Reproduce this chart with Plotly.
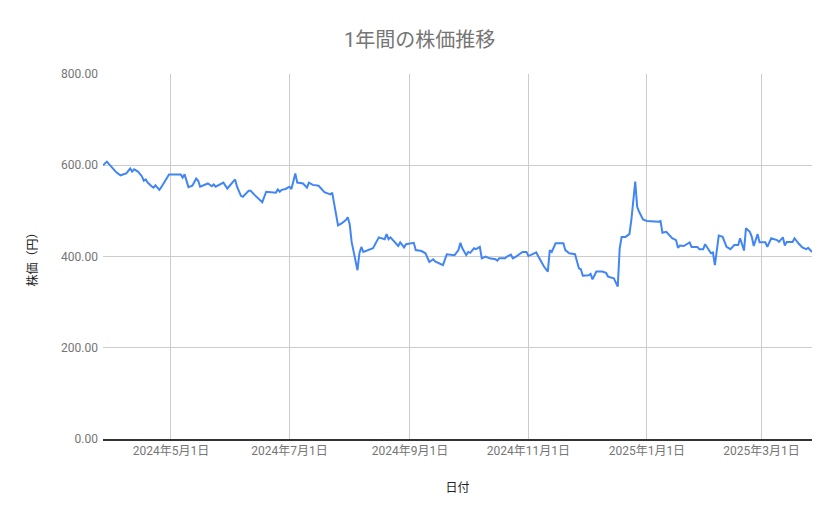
import plotly.graph_objects as go

# 日付と終値
dates = [
    "2024-03-27", "2024-03-29", "2024-03-30", "2024-04-01", "2024-04-03", "2024-04-05",
    "2024-04-08", "2024-04-10", "2024-04-11", "2024-04-12", "2024-04-14", "2024-04-16",
    "2024-04-17", "2024-04-18", "2024-04-19", "2024-04-21", "2024-04-22", "2024-04-23",
    "2024-04-25", "2024-04-26", "2024-04-30", "2024-05-06", "2024-05-07", "2024-05-08",
    "2024-05-10", "2024-05-12", "2024-05-14", "2024-05-15", "2024-05-16", "2024-05-20",
    "2024-05-22", "2024-05-23", "2024-05-24", "2024-05-28", "2024-05-30", "2024-06-03",
    "2024-06-04", "2024-06-06", "2024-06-07", "2024-06-10", "2024-06-11", "2024-06-13",
    "2024-06-15", "2024-06-17", "2024-06-19", "2024-06-22", "2024-06-24", "2024-06-25",
    "2024-06-26", "2024-06-27", "2024-06-29", "2024-07-01", "2024-07-02", "2024-07-04",
    "2024-07-05", "2024-07-08", "2024-07-10", "2024-07-11", "2024-07-13", "2024-07-16",
    "2024-07-18", "2024-07-19", "2024-07-22", "2024-07-23", "2024-07-24", "2024-07-26",
    "2024-07-28", "2024-07-30", "2024-07-31", "2024-08-01", "2024-08-02", "2024-08-05",
    "2024-08-06", "2024-08-07", "2024-08-08", "2024-08-13", "2024-08-16", "2024-08-19",
    "2024-08-20", "2024-08-21", "2024-08-22", "2024-08-24", "2024-08-26", "2024-08-27",
    "2024-08-29", "2024-08-30", "2024-09-03", "2024-09-04", "2024-09-07", "2024-09-09",
    "2024-09-10", "2024-09-11", "2024-09-13", "2024-09-14", "2024-09-18", "2024-09-20",
    "2024-09-24", "2024-09-26", "2024-09-27", "2024-09-28", "2024-09-30", "2024-10-01",
    "2024-10-02", "2024-10-04", "2024-10-05", "2024-10-07", "2024-10-08", "2024-10-10",
    "2024-10-12", "2024-10-15", "2024-10-16", "2024-10-17", "2024-10-20", "2024-10-21",
    "2024-10-23", "2024-10-24", "2024-10-26", "2024-10-29", "2024-10-31", "2024-11-01",
    "2024-11-04", "2024-11-05", "2024-11-06", "2024-11-08", "2024-11-09", "2024-11-11",
    "2024-11-12", "2024-11-13", "2024-11-15", "2024-11-19", "2024-11-20", "2024-11-22",
    "2024-11-25", "2024-11-27", "2024-11-28", "2024-11-29", "2024-12-02", "2024-12-03",
    "2024-12-04", "2024-12-06", "2024-12-09", "2024-12-11", "2024-12-12", "2024-12-15",
    "2024-12-17", "2024-12-18", "2024-12-19", "2024-12-21", "2024-12-23", "2024-12-24",
    "2024-12-26", "2024-12-27", "2024-12-28", "2024-12-30", "2025-01-01", "2025-01-07",
    "2025-01-08", "2025-01-09", "2025-01-11", "2025-01-14", "2025-01-16", "2025-01-17",
    "2025-01-18", "2025-01-20", "2025-01-23", "2025-01-24", "2025-01-27", "2025-01-28",
    "2025-01-30", "2025-01-31", "2025-02-02", "2025-02-03", "2025-02-04", "2025-02-05",
    "2025-02-07", "2025-02-09", "2025-02-11", "2025-02-13", "2025-02-15", "2025-02-17",
    "2025-02-18", "2025-02-19", "2025-02-20", "2025-02-21", "2025-02-23", "2025-02-24",
    "2025-02-25", "2025-02-27", "2025-02-28", "2025-03-03", "2025-03-04", "2025-03-06",
    "2025-03-09", "2025-03-10", "2025-03-12", "2025-03-13", "2025-03-14", "2025-03-17",
    "2025-03-18", "2025-03-20", "2025-03-22", "2025-03-24", "2025-03-25", "2025-03-27",
]
prices = [
    600, 608, 603, 593, 584, 578,
    582, 593, 586, 591, 586, 576,
    566, 569, 562, 554, 551, 556,
    546, 552, 580, 580, 573, 580,
    552, 555, 571, 566, 553, 560,
    554, 558, 553, 562, 549, 569,
    553, 533, 531, 544, 544, 535,
    527, 519, 542, 541, 540, 547,
    542, 546, 548, 553, 548, 582,
    562, 560, 551, 562, 557, 555,
    544, 541, 536, 540, 516, 468,
    473, 480, 486, 471, 432, 370,
    407, 421, 410, 418, 442, 438,
    449, 438, 442, 432, 423, 431,
    420, 427, 430, 414, 412, 407,
    396, 388, 394, 389, 381, 405,
    403, 414, 430, 418, 403, 410,
    408, 418, 416, 421, 396, 400,
    396, 394, 391, 396, 396, 400,
    404, 396, 401, 410, 410, 401,
    407, 409, 401, 385, 378, 367,
    414, 410, 429, 429, 414, 407,
    405, 374, 372, 358, 359, 362,
    350, 367, 367, 364, 356, 352,
    334, 418, 443, 443, 449, 480,
    564, 509, 498, 481, 478, 476,
    478, 452, 454, 440, 436, 419,
    424, 423, 431, 421, 421, 416,
    416, 427, 414, 407, 409, 381,
    446, 443, 421, 416, 425, 425,
    440, 425, 413, 462, 454, 443,
    423, 449, 431, 431, 421, 440,
    436, 432, 442, 424, 432, 432,
    440, 429, 420, 416, 419, 410,
]

font_family = "Roboto, 'Noto Sans CJK JP', sans-serif"

fig = go.Figure()
fig.add_trace(go.Scatter(x=dates, y=prices, mode="lines",
                         line=dict(color="#4285F4", width=2),
                         showlegend=False))

# the page body has an 8px margin, so the margins are shifted to compensate
fig.update_layout(
    width=839, height=519,
    title=dict(text="1年間の株価推移", x=0.4905, xanchor="center",
               y=0.938, yref="container", yanchor="middle",
               font=dict(family=font_family, size=20, color="#757575")),
    font=dict(family=font_family),
    plot_bgcolor="white",
    paper_bgcolor="white",
    margin=dict(l=95, r=35, t=66, b=88),
    xaxis=dict(
        title=dict(text="日付", font=dict(size=12, color="#222222"), standoff=26),
        type="date",
        range=["2024-03-27", "2025-03-27"],
        tick0="2024-05-01", dtick="M2",
        tickformat="%Y年%-m月%-d日",
        tickfont=dict(size=12, color="#757575"),
        showgrid=True, gridcolor="#cccccc", gridwidth=1,
        showline=True, linecolor="#333333", linewidth=1.5,
        ticks="", zeroline=False,
    ),
    yaxis=dict(
        title=dict(text="株価（円）", font=dict(size=12, color="#222222"), standoff=20),
        range=[0, 800], dtick=200, tickformat=".2f",
        tickfont=dict(size=12, color="#757575"),
        ticklabelstandoff=4,
        showgrid=True, gridcolor="#cccccc", gridwidth=1,
        zeroline=False, showline=False, ticks="",
    ),
)

fig.write_html("out.html")
